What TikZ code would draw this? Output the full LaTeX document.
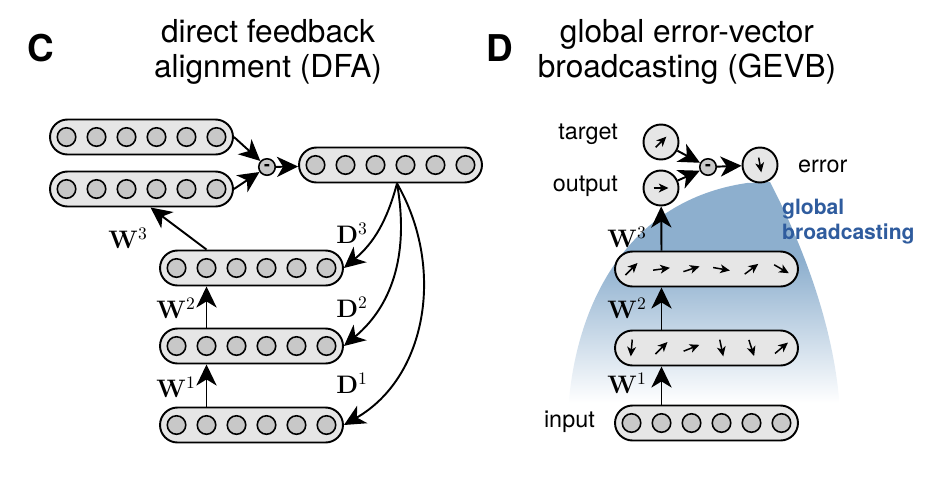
\documentclass[tikz,border=0pt]{standalone}
\usepackage[no-math]{fontspec}
\setmainfont{TeX Gyre Heros}
\usetikzlibrary{arrows.meta,positioning,calc}

\definecolor{boxgray}{RGB}{230,230,230}
\definecolor{unitgray}{RGB}{200,200,200}
\definecolor{gbblue}{RGB}{141,175,206}
\definecolor{gbtext}{RGB}{47,92,158}
\pgfdeclareverticalshading{broadcast}{100bp}{color(0bp)=(white); color(27bp)=(white); color(58bp)=(gbblue); color(100bp)=(gbblue)}

\tikzset{
  layer/.style = {draw, line width=1.1pt, fill=boxgray, rounded corners=0.35cm, minimum width=3.66cm, minimum height=0.7cm, inner sep=0pt},
  unit/.style = {draw, line width=0.9pt, fill=unitgray, circle, inner sep=0pt, minimum size=0.37cm},
  bigunit/.style = {draw, line width=1.1pt, fill=boxgray, circle, inner sep=0pt, minimum size=0.7cm},
  minus/.style = {draw, line width=0.9pt, fill=unitgray, circle, inner sep=0pt, minimum size=0.33cm, font=\bfseries\fontsize{10}{10}\selectfont},
  arr/.style = {-{Stealth[length=12pt, width=11.5pt, inset=3.5pt]}, line width=1.1pt},
  vec/.style = {-{Stealth[length=5.5pt, width=5pt, inset=1.5pt]}, line width=0.85pt},
  title/.style = {align=center, font=\fontsize{18}{20}\selectfont},
  panel/.style = {font=\bfseries\fontsize{21}{21}\selectfont},
  lab/.style = {font=\fontsize{13.3}{15}\selectfont},
  wlab/.style = {font=\fontsize{14.5}{17}\selectfont},
  gb/.style = {align=left, text=gbtext, font=\bfseries\fontsize{12}{14.2}\selectfont}
}

% six units inside a layer
\newcommand{\unitrow}[1]{%
  \foreach \i in {1,...,6}
    \node[unit] (#1-\i) at ([xshift={(\i-3.5)*0.6cm}]#1.center) {};}
% six little direction vectors inside a layer
\newcommand{\vecrow}[2]{%
  \foreach \a [count=\i] in {#2}{
    \coordinate (#1-\i) at ([xshift={(\i-3.5)*0.6cm}]#1.center);
    \draw[vec] (#1-\i) ++(\a+180:0.17cm) -- ++(\a:0.34cm);}}

\begin{document}
\begin{tikzpicture}[x=0.02cm, y=-0.02cm]
\useasboundingbox (0,0) rectangle (947,491);

% broadcasting cone
\shade[shading=broadcast] (568,412) .. controls (575,300) and (630,200) .. (747,183)
  -- (770,182) .. controls (795,230) and (835,320) .. (840,412) -- cycle;

% panel C
\node[panel] (pc) at (41,48) {C};
\node[title] (tc) at (268,52) {direct feedback\\alignment (DFA)};

\node[layer] (tgt) at (141.5,137) {}; \unitrow{tgt}
\node[layer] (out) at (141.5,189) {}; \unitrow{out}
\node[minus] (dc) at (267,167) {-};
\node[layer] (err) at (390.5,165) {}; \unitrow{err}
\node[layer] (h2) at (251.5,268) {}; \unitrow{h2}
\node[layer] (h1) at (251.5,346) {}; \unitrow{h1}
\node[layer] (inp) at (251.5,425) {}; \unitrow{inp}

\draw[arr] (tgt.east) -- (dc);
\draw[arr] (out.east) -- (dc);
\draw[arr] (dc) -- (err);
\draw[arr] (inp-2 |- inp.north) -- (h1-2 |- h1.south);
\draw[arr] (h1-2 |- h1.north) -- (h2-2 |- h2.south);
\draw[arr] (h2-2 |- h2.north) -- ([xshift=0.18cm]out.south);
\draw[arr] ([xshift=0.13cm]err.south) to[out=-105, in=40] (h2.east);
\draw[arr] ([xshift=0.13cm]err.south) to[out=-80, in=40] (h1.east);
\draw[arr] ([xshift=0.13cm]err.south) to[out=-60, in=30] (inp.east);

\node[wlab] (w3c) at (128,238) {$\mathbf{W}^3$};
\node[wlab] (w2c) at (176,308) {$\mathbf{W}^2$};
\node[wlab] (w1c) at (176,387) {$\mathbf{W}^1$};
\node[wlab] (d3) at (352,233) {$\mathbf{D}^3$};
\node[wlab] (d2) at (352,307) {$\mathbf{D}^2$};
\node[wlab] (d1) at (352,383) {$\mathbf{D}^1$};

% panel D
\node[panel] (pd) at (500,48) {D};
\node[title] (td) at (687,52) {global error-vector\\broadcasting (GEVB)};

\node[bigunit] (gtgt) at (661,142) {};
\draw[vec] (gtgt) ++(225:0.15cm) -- ++(45:0.3cm);
\node[bigunit] (gout) at (661,188) {};
\draw[vec] (gout) ++(180:0.15cm) -- ++(0:0.3cm);
\node[minus] (gdiff) at (708,167) {-};
\node[bigunit] (gerr) at (760,165) {};
\draw[vec] (gerr) ++(100:0.15cm) -- ++(-80:0.3cm);
\node[layer] (gh2) at (706.5,269) {}; \vecrow{gh2}{45,8,18,-10,37,-30}
\node[layer] (gh1) at (706.5,348) {}; \vecrow{gh1}{-95,45,22,-78,-72,40}
\node[layer] (ginp) at (706.5,423) {}; \unitrow{ginp}

\draw[arr] (gtgt) -- (gdiff);
\draw[arr] (gout) -- (gdiff);
\draw[arr] (gdiff) -- (gerr);
\draw[arr] (ginp-2 |- ginp.north) -- (gh1-2 |- gh1.south);
\draw[arr] (gh1-2 |- gh1.north) -- (gh2-2 |- gh2.south);
\draw[arr] (gh2-2 |- gh2.north) -- (gout);

\node[lab, anchor=east] (ltgt) at (624,134) {target};
\node[lab, anchor=east] (lout) at (624,186) {output};
\node[lab, anchor=west] (lerr) at (792,166) {error};
\node[lab, anchor=east] (linp) at (601,422) {input};
\node[gb, anchor=west] (lgb) at (776,222) {global\\broadcasting};

\node[wlab] (w3d) at (627,237) {$\mathbf{W}^3$};
\node[wlab] (w2d) at (627,308) {$\mathbf{W}^2$};
\node[wlab] (w1d) at (627,383) {$\mathbf{W}^1$};
\end{tikzpicture}
\end{document}
